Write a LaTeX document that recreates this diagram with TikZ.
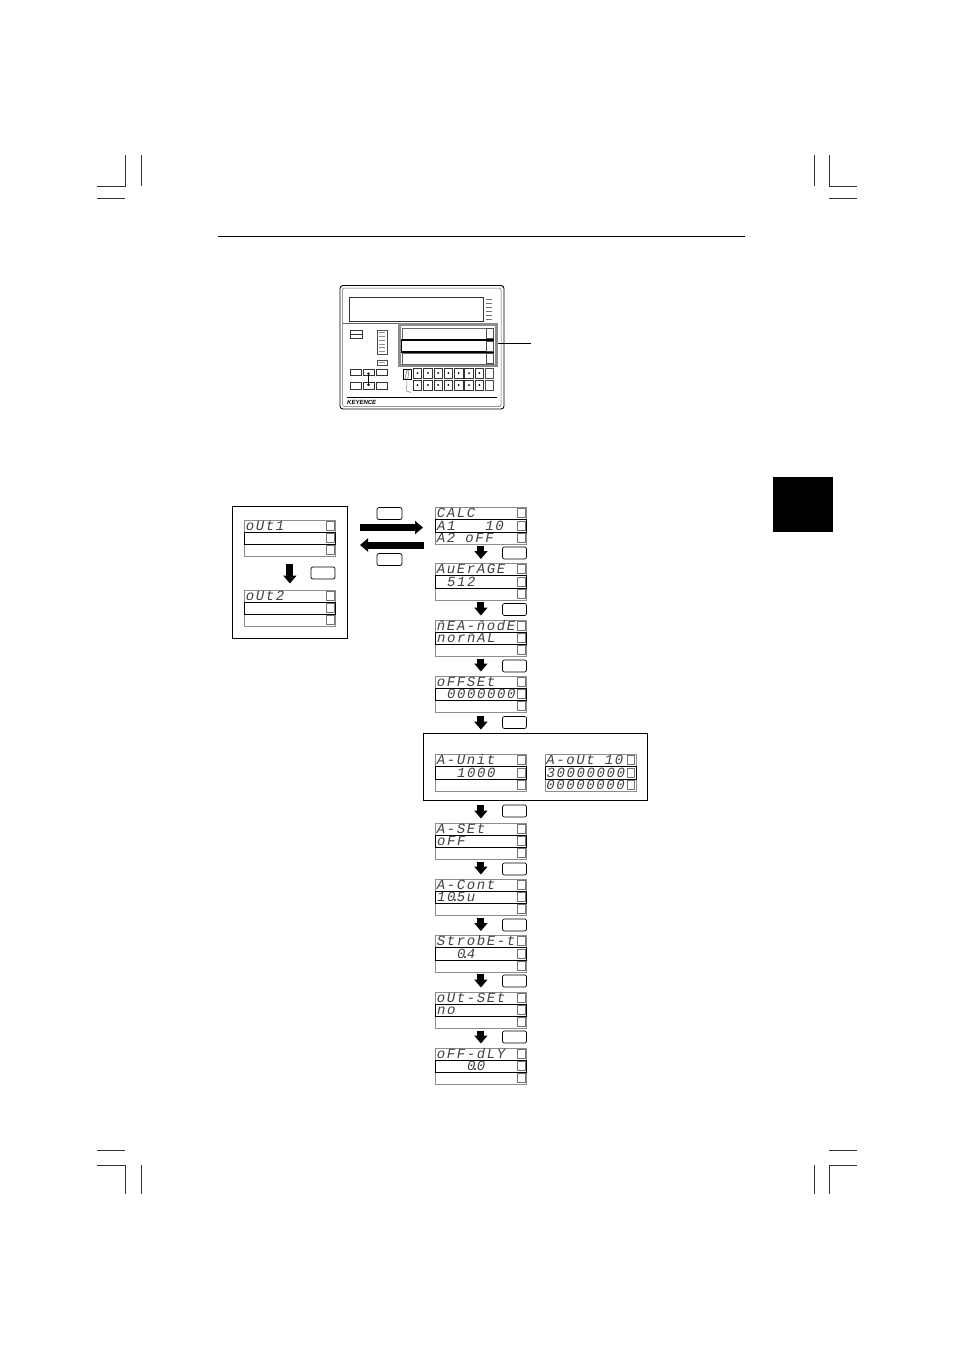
\documentclass[tikz,border=0pt]{standalone}
\usepackage{fontspec}
\usetikzlibrary{arrows.meta, positioning, calc}
\newfontfamily\segfamily[LetterSpace=11.4]{Liberation Mono}
\newfontfamily\logofamily{Liberation Sans}
\newcommand{\gap}{\hspace*{10pt}}
\newcommand{\segdot}{\kern-4pt.\kern-3pt }
\newcommand{\dispanel}[6]{%
    \node[disprow] (#1a) at (#2,#3) {#4};
    \node[disprow] (#1c) at (#2,#3+24.5) {#6};
    \node[disprow, midrow] (#1b) at (#2,#3+12) {#5};
    \node[sidekey] (#1ka) at (#2+86.5,#3+6) {};
    \node[sidekey] (#1kb) at (#2+86.5,#3+18.5) {};
    \node[sidekey] (#1kc) at (#2+86.5,#3+30.5) {};
}
\begin{document}
\begin{tikzpicture}[
        x=1pt, y=-1pt,
        disprow/.style={rectangle, anchor=north west, draw=black!45, line width=0.8pt, minimum width=91pt, minimum height=12pt, inner xsep=1.5pt, inner ysep=0pt, text width=88pt, align=left, text height=9pt, text depth=0pt, text=black!75, font=\segfamily\itshape\fontsize{14}{14}\selectfont},
        midrow/.style={draw=black, line width=1.1pt, minimum height=12.5pt},
        sidekey/.style={rectangle, draw=black!55, line width=0.8pt, minimum width=7.5pt, minimum height=9pt, inner sep=0pt},
        softkey/.style={rectangle, draw=black, line width=0.7pt, rounded corners=2pt, minimum width=24pt, minimum height=12pt, inner sep=0pt},
        framebox/.style={rectangle, draw=black, line width=0.8pt, inner sep=0pt},
        blockarrow/.style={-{Triangle[length=8pt,width=13pt]}, line width=7pt, shorten <=2pt, shorten >=4pt},
        crop/.style={line width=0.6pt, draw=black!80},
        unitkey/.style={rectangle, draw=black!80, line width=0.6pt, minimum width=8.5pt, minimum height=10pt, inner sep=0pt},
        smallkey/.style={rectangle, draw=black!80, line width=0.6pt, minimum width=11pt, minimum height=6.5pt, inner sep=0pt},
        keydot/.style={circle, fill=black, minimum size=2pt, inner sep=0pt}
    ]
        \path[fill=white, use as bounding box] (0,0) rectangle (954,1350);

        \draw[crop] (125,155) -- (125,186) -- (97,186);
        \draw[crop] (141,155) -- (141,186);
        \draw[crop] (97,198) -- (125,198);
        \draw[crop] (814,155) -- (814,186);
        \draw[crop] (829,155) -- (829,186) -- (857,186);
        \draw[crop] (829,198) -- (857,198);
        \draw[crop] (97,1150) -- (125,1150);
        \draw[crop] (97,1165) -- (125,1165) -- (125,1194);
        \draw[crop] (141,1165) -- (141,1194);
        \draw[crop] (829,1150) -- (857,1150);
        \draw[crop] (857,1165) -- (829,1165) -- (829,1194);
        \draw[crop] (814,1165) -- (814,1194);
        \draw[line width=0.9pt] (218,236.5) -- (745,236.5);
        \fill[black] (773,477) rectangle (833,532);

        \draw[line width=0.9pt, rounded corners=3pt] (340,285.5) rectangle (504,409);
        \draw[line width=0.5pt, draw=black!60, rounded corners=2pt] (342.5,288) rectangle (501,406.5);
        \draw[line width=0.6pt, draw=black!60] (342.5,323.5) -- (398,323.5);
        \node[rectangle, draw=black!80, line width=0.6pt, minimum width=134pt, minimum height=24pt, inner sep=0pt] (devscreen) at (416,309) {};
        \foreach \i in {0,...,5} {
            \draw[line width=0.6pt, draw=black!55] (486,299+4*\i) -- (492,299+4*\i);
        }
        \node[rectangle, draw=black!45, line width=3.5pt, minimum width=97pt, minimum height=41pt, inner sep=0pt] (devframe) at (448,345) {};
        \node[rectangle, draw=black!60, line width=0.6pt, minimum width=91pt, minimum height=11pt, inner sep=0pt] (devrowa) at (447.5,333.5) {};
        \node[rectangle, draw=black!60, line width=0.6pt, minimum width=91pt, minimum height=11pt, inner sep=0pt] (devrowc) at (447.5,358.5) {};
        \node[rectangle, draw=black, line width=1.1pt, minimum width=92pt, minimum height=12pt, inner sep=0pt] (devrowb) at (447.5,346) {};
        \node[sidekey, fill=white, minimum height=10pt, minimum width=7pt, draw=black!70] (devka) at (489.5,333.5) {};
        \node[sidekey, fill=white, minimum height=10pt, minimum width=7pt, draw=black!70] (devkb) at (489.5,346) {};
        \node[sidekey, fill=white, minimum height=10pt, minimum width=7pt, draw=black!70] (devkc) at (489.5,358.5) {};
        \coordinate (leaderend) at (531,343.5);
        \draw[line width=0.6pt] (devframe.east |- leaderend) -- (leaderend);

        \node[rectangle, draw=black!80, line width=0.8pt, minimum width=12pt, minimum height=7.5pt, inner sep=0pt] (devmode) at (356,334.5) {};
        \draw[line width=0.6pt, draw=black!80] (devmode.west) -- (devmode.east);
        \node[rectangle, draw=black!70, line width=0.6pt, minimum width=10pt, minimum height=24pt, inner sep=0pt] (devbar) at (382,342) {};
        \foreach \i in {0,...,5} {
            \draw[line width=0.6pt, draw=black!45] (379,332.5+3.8*\i) -- (385,332.5+3.8*\i);
        }
        \node[rectangle, draw=black!70, line width=0.6pt, minimum width=10pt, minimum height=5pt, inner sep=0pt] (devled) at (382,362.5) {};
        \draw[line width=1.2pt, draw=black!40] (379,362.5) -- (385,362.5);
        \node[smallkey] (keyup1) at (356,372.5) {};
        \node[smallkey] (keyup2) at (368.5,372.5) {};
        \node[smallkey] (keyup3) at (381.5,372.5) {};
        \node[smallkey] (keydn1) at (356,386) {};
        \node[smallkey] (keydn2) at (368.5,386) {};
        \node[smallkey] (keydn3) at (381.5,386) {};
        \draw[line width=0.8pt, {Circle[length=2.4pt]}-{Circle[length=2.4pt]}] (keyup2.center) -- (keydn2.center);

        \node[rectangle, draw=black, line width=0.9pt, minimum width=8pt, minimum height=10pt, inner sep=0pt] (devswitch) at (407,374) {};
        \draw[line width=0.5pt, draw=black!60] (405,378) -- (407,370) -- (409,370) -- (408,378) -- cycle;
        \draw[line width=0.5pt, draw=black!45] (devswitch.south) -- (406.5,391) -- (411,392.5);
        \foreach \i in {0,...,6} {
            \node[unitkey] (digup\i) at (417.5+10.3*\i,373) {};
            \node[unitkey] (digdn\i) at (417.5+10.3*\i,385) {};
            \node[keydot] (dotup\i) at (digup\i) {};
            \node[keydot] (dotdn\i) at (digdn\i) {};
        }
        \node[sidekey, draw=black!70, minimum height=10pt] (devkd) at (489.5,373) {};
        \node[sidekey, draw=black!70, minimum height=10pt] (devke) at (489.5,385) {};
        \draw[line width=0.7pt] (347,397) -- (497,397);
        \node[anchor=west, inner sep=0pt, font=\logofamily\bfseries\itshape\fontsize{6}{6}\selectfont] (devlogo) at (347,402.5) {KEYENCE};

        \node[framebox, minimum width=115pt, minimum height=132pt] (outbox) at (289.5,572) {};
        \dispanel{outone}{244}{519.5}{oUt1}{}{}
        \dispanel{outtwo}{244}{589.5}{oUt2}{}{}
        \node[softkey] (outkey) at (323,573) {};
        \draw[blockarrow, shorten <=7pt, shorten >=6pt] (outonec) -- (outtwoa);

        \coordinate (fwdfrom) at (360,527.5);
        \coordinate (fwdto) at (423,527.5);
        \coordinate (backfrom) at (423.5,545);
        \coordinate (backto) at (360,545);
        \draw[blockarrow, shorten <=0pt, shorten >=0pt] (fwdfrom) -- (fwdto);
        \draw[blockarrow, shorten <=0pt, shorten >=0pt] (backfrom) -- (backto);
        \node[softkey, minimum width=25pt] (fwdkey) at (389.5,513.5) {};
        \node[softkey, minimum width=25pt] (backkey) at (389.5,559.5) {};

        \dispanel{calc}{435}{507}{CALC}{A1\gap\gap\gap 10}{A2\gap oFF}
        \dispanel{avg}{435}{563}{AuErAGE}{\gap 512}{}
        \dispanel{mea}{435}{619.5}{\=nEA-\=nodE}{nor\=nAL}{}
        \dispanel{offs}{435}{675.5}{oFFSEt}{\gap 0000000}{}
        \node[framebox, minimum width=224pt, minimum height=67pt] (unitbox) at (535,766.5) {};
        \dispanel{unit}{435}{754}{A-Unit}{\gap\gap 1000}{}
        \dispanel{aout}{544.5}{754}{A-oUt\gap 10}{30000000}{00000000}
        \dispanel{aset}{435}{822.5}{A-SEt}{oFF}{}
        \dispanel{acon}{435}{878.5}{A-Cont}{10\segdot 5u}{}
        \dispanel{strb}{435}{935}{StrobE-t}{\gap\gap 0\segdot 4}{}
        \dispanel{oset}{435}{991.5}{oUt-SEt}{no}{}
        \dispanel{oldy}{435}{1047.5}{oFF-dLY}{\gap\gap\gap 0\segdot 0}{}

        \node[softkey] (key1) at (514.5,553) {};
        \node[softkey] (key2) at (514.5,609.5) {};
        \node[softkey] (key3) at (514.5,666) {};
        \node[softkey] (key4) at (514.5,722.5) {};
        \node[softkey] (key5) at (514.5,811) {};
        \node[softkey] (key6) at (514.5,869) {};
        \node[softkey] (key7) at (514.5,925) {};
        \node[softkey] (key8) at (514.5,981) {};
        \node[softkey] (key9) at (514.5,1037) {};

        \draw[blockarrow] (calcc) -- (avga);
        \draw[blockarrow] (avgc) -- (meaa);
        \draw[blockarrow] (meac) -- (offsa);
        \draw[blockarrow, shorten <=3pt, shorten >=3pt] (offsc) -- (offsc |- unitbox.north);
        \draw[blockarrow, shorten <=5pt] (aseta |- unitbox.south) -- (aseta);
        \draw[blockarrow] (asetc) -- (acona);
        \draw[blockarrow] (aconc) -- (strba);
        \draw[blockarrow] (strbc) -- (oseta);
        \draw[blockarrow] (osetc) -- (oldya);
    \end{tikzpicture}
\end{document}
